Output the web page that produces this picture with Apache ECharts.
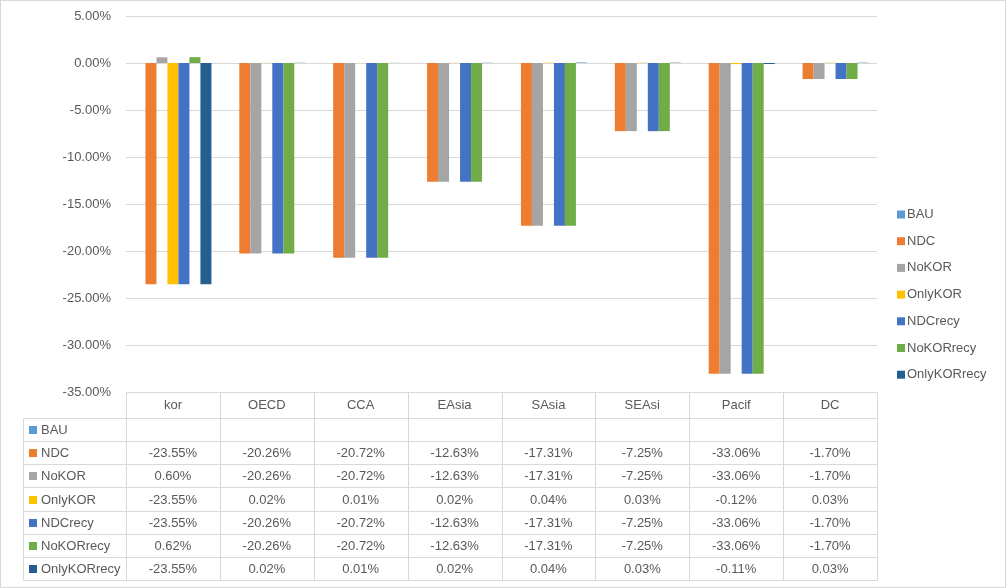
<!DOCTYPE html>
<html>
<head>
<meta charset="utf-8">
<script src="https://cdn.jsdelivr.net/npm/echarts@6/dist/echarts.min.js"></script>
<style>
html,body{margin:0;padding:0;background:#fff;}
#wrap{position:absolute;left:0;top:0;width:1004px;height:586px;border:1px solid #d9d9d9;}
#chart{width:1004px;height:586px;}
</style>
</head>
<body>
<div id="wrap"><div id="chart"></div></div>
<script>
const categories = ['kor','OECD','CCA','EAsia','SAsia','SEAsi','Pacif','DC'];
const seriesNames = ['BAU','NDC','NoKOR','OnlyKOR','NDCrecy','NoKORrecy','OnlyKORrecy'];
const BAU = [null,null,null,null,null,null,null,null];
const NDC = [-23.55,-20.26,-20.72,-12.63,-17.31,-7.25,-33.06,-1.70];
const NoKOR = [0.60,-20.26,-20.72,-12.63,-17.31,-7.25,-33.06,-1.70];
const OnlyKOR = [-23.55,0.02,0.01,0.02,0.04,0.03,-0.12,0.03];
const NDCrecy = [-23.55,-20.26,-20.72,-12.63,-17.31,-7.25,-33.06,-1.70];
const NoKORrecy = [0.62,-20.26,-20.72,-12.63,-17.31,-7.25,-33.06,-1.70];
const OnlyKORrecy = [-23.55,0.02,0.01,0.02,0.04,0.03,-0.11,0.03];
const colors = ['#5B9BD5','#ED7D31','#A5A5A5','#FFC000','#4472C4','#70AD47','#255E91'];

const seriesData = [BAU, NDC, NoKOR, OnlyKOR, NDCrecy, NoKORrecy, OnlyKORrecy];
const FONT = '"Liberation Sans", Arial, sans-serif';
const TXT = '#595959';
const LINE = '#D9D9D9';

const chart = echarts.init(document.getElementById('chart'), null, {renderer:'canvas'});
const option = {
  animation:false,
  color: colors,
  textStyle:{fontFamily:FONT},
  grid:{left:125, right:128, top:15, bottom:195, containLabel:false},
  legend:{
    data: seriesNames, orient:'vertical', left:891, top:202,
    itemWidth:8, itemHeight:8, itemGap:13.7, icon:'rect',
    textStyle:{fontSize:13, color:TXT, fontFamily:FONT, padding:[0,0,0,-3]}
  },
  xAxis:{
    type:'category', data:categories,
    axisLine:{show:false}, axisTick:{show:false}, axisLabel:{show:false},
    splitLine:{show:false}
  },
  yAxis:{
    type:'value', min:-35, max:5, interval:5,
    axisLine:{show:false}, axisTick:{show:false},
    axisLabel:{formatter: v => v.toFixed(2)+'%', fontSize:13, color:TXT, fontFamily:FONT, margin:15},
    splitLine:{lineStyle:{color:LINE, width:1}}
  },
  series: seriesNames.map((n,i)=>({
    name:n, type:'bar', data:seriesData[i], barGap:'0%', barCategoryGap:'18%'
  }))
};
chart.setOption(option);

// Build data table aligned to category axis
const c0 = chart.convertToPixel({xAxisIndex:0}, 0);
const c1 = chart.convertToPixel({xAxisIndex:0}, 1);
const band = c1 - c0;
const xb = [];
for (let i=0;i<=categories.length;i++) xb.push(c0 - band/2 + i*band);
const tableTop = chart.convertToPixel({yAxisIndex:0}, -35);
const headerH = 26;
const rowH = 23.15;
const labelLeft = 22;
const nRows = seriesNames.length;
const tableBottom = tableTop + headerH + nRows*rowH;
const g = [];
const ln = (x1,y1,x2,y2)=>g.push({type:'line', silent:true, shape:{x1:Math.round(x1)+0.5,y1:Math.round(y1)+0.5,x2:Math.round(x2)+0.5,y2:Math.round(y2)+0.5}, style:{stroke:LINE, lineWidth:1}});
ln(xb[0], tableTop, xb[xb.length-1], tableTop);
for (let r=0;r<=nRows;r++){
  const y = tableTop + headerH + r*rowH;
  ln(labelLeft, y, xb[xb.length-1], y);
}
xb.forEach(x=>ln(x, tableTop, x, tableBottom));
ln(labelLeft, tableTop+headerH, labelLeft, tableBottom);
categories.forEach((c,i)=>{
  g.push({type:'text', silent:true, style:{text:c, x:(xb[i]+xb[i+1])/2, y:tableTop+headerH/2, textAlign:'center', textVerticalAlign:'middle', fill:TXT, font:'13px '+FONT}});
});
seriesNames.forEach((n,r)=>{
  const yc = tableTop + headerH + r*rowH + rowH/2 + 1;
  g.push({type:'rect', silent:true, shape:{x:28, y:Math.round(yc-4.5), width:8, height:8}, style:{fill:colors[r]}});
  g.push({type:'text', silent:true, style:{text:n, x:40, y:yc, textAlign:'left', textVerticalAlign:'middle', fill:TXT, font:'13px '+FONT}});
  seriesData[r].forEach((v,i)=>{
    if (v === null) return;
    g.push({type:'text', silent:true, style:{text:v.toFixed(2)+'%', x:(xb[i]+xb[i+1])/2, y:yc, textAlign:'center', textVerticalAlign:'middle', fill:TXT, font:'13px '+FONT}});
  });
});
chart.setOption({graphic:{elements:g}});
</script>
</body>
</html>
